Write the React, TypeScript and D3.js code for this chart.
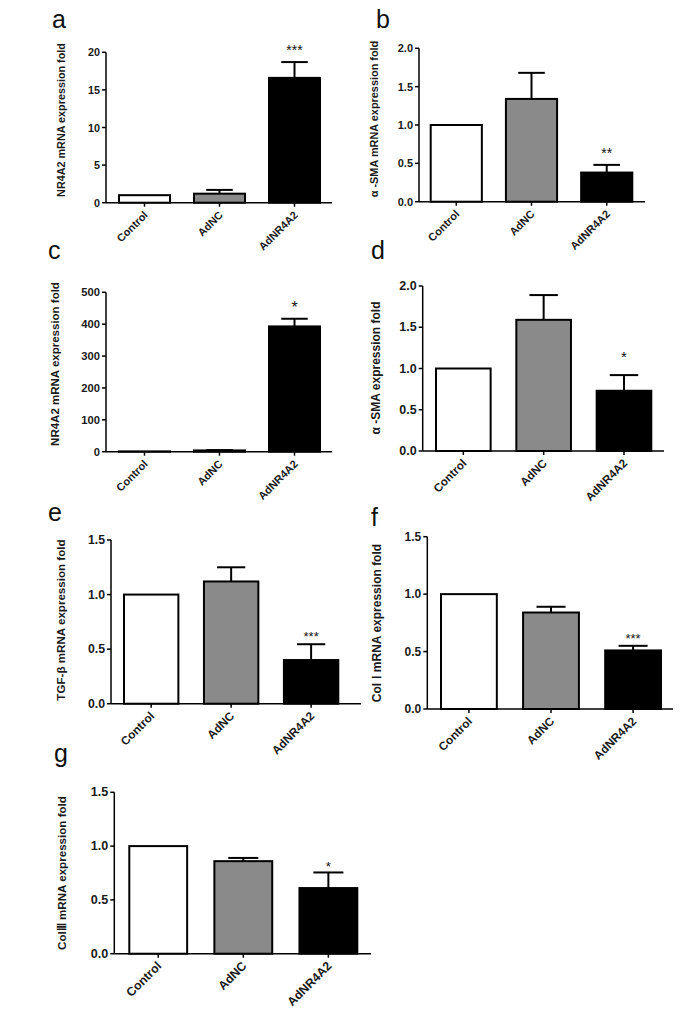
import React from "react";
import * as d3 from "d3";

const categories = ["Control", "AdNC", "AdNR4A2"];

const aMeans = [1, 1.2, 16.6];
const aSem = [0, 0.5, 2.1];
const aTicks = [0, 5, 10, 15, 20];

const bMeans = [1, 1.34, 0.38];
const bSem = [0, 0.34, 0.1];
const bTicks = [0, 0.5, 1.0, 1.5, 2.0];

const cMeans = [1, 4, 393];
const cSem = [0, 1, 24];
const cTicks = [0, 100, 200, 300, 400, 500];

const dMeans = [1, 1.59, 0.73];
const dSem = [0, 0.3, 0.19];
const dTicks = [0, 0.5, 1.0, 1.5, 2.0];

const eMeans = [1, 1.12, 0.4];
const eSem = [0, 0.13, 0.145];
const eTicks = [0, 0.5, 1.0, 1.5];

const fMeans = [1, 0.84, 0.51];
const fSem = [0, 0.05, 0.04];
const fTicks = [0, 0.5, 1.0, 1.5];

const gMeans = [1, 0.86, 0.61];
const gSem = [0, 0.03, 0.145];
const gTicks = [0, 0.5, 1.0, 1.5];

const significance = ["***", "**", "*", "*", "***", "***", "*"];
const panelLetters = ["a", "b", "c", "d", "e", "f", "g"];
const yTitles = [
  "NR4A2 mRNA expression fold",
  "α -SMA mRNA expression fold",
  "NR4A2 mRNA expression fold",
  "α -SMA expression fold",
  "TGF-β  mRNA expression fold",
  "Col Ⅰ  mRNA expression fold",
  "ColⅢ mRNA expression fold",
];

const fills = ["#ffffff", "#8a8a8a", "#000000"];
const FONT = "'Liberation Sans', Arial, Helvetica, sans-serif";

type Layout = {
  axisX: number;
  axisEnd: number;
  yTop: number;
  y0: number;
  bandStart: number;
  bandEnd: number;
  letterX: number;
  letterY: number;
  titleX: number;
  titleY: number;
  titleSize: number;
  tickSize: number;
  labelSize: number;
  starOffset: number;
  starSize: number;
  fmt: string;
};

const layouts: Layout[] = [
  { axisX: 106, axisEnd: 332, yTop: 52.3, y0: 202.7, bandStart: 119, bandEnd: 320, letterX: 52, letterY: 28, titleX: 62, titleY: 120, titleSize: 10.8, tickSize: 10.8, labelSize: 10.8, starOffset: 7, starSize: 14, fmt: "d" },
  { axisX: 419, axisEnd: 645, yTop: 48.3, y0: 201.7, bandStart: 430.7, bandEnd: 632.3, letterX: 376, letterY: 28, titleX: 375, titleY: 119, titleSize: 10.9, tickSize: 11, labelSize: 11, starOffset: 7, starSize: 14, fmt: ".1f" },
  { axisX: 106, axisEnd: 332, yTop: 292.3, y0: 451.7, bandStart: 119, bandEnd: 320, letterX: 48, letterY: 259, titleX: 56, titleY: 364, titleSize: 11.5, tickSize: 11.2, labelSize: 11, starOffset: 6, starSize: 16, fmt: "d" },
  { axisX: 422.7, axisEnd: 664, yTop: 286, y0: 451, bandStart: 436, bandEnd: 651.3, letterX: 371, letterY: 259, titleX: 377, titleY: 368, titleSize: 12, tickSize: 12.5, labelSize: 11.6, starOffset: 13, starSize: 15, fmt: ".1f" },
  { axisX: 111, axisEnd: 361, yTop: 540, y0: 703.7, bandStart: 124, bandEnd: 338.3, letterX: 48, letterY: 521, titleX: 62, titleY: 620, titleSize: 11.6, tickSize: 12.3, labelSize: 11.8, starOffset: 3, starSize: 13, fmt: ".1f" },
  { axisX: 427.3, axisEnd: 673, yTop: 536.7, y0: 709, bandStart: 441, bandEnd: 661, letterX: 371, letterY: 526, titleX: 378, titleY: 623, titleSize: 12, tickSize: 12, labelSize: 11.8, starOffset: 3, starSize: 13, fmt: ".1f" },
  { axisX: 114.3, axisEnd: 371, yTop: 792.3, y0: 953.7, bandStart: 129.3, bandEnd: 357.3, letterX: 54, letterY: 762, titleX: 63, titleY: 873, titleSize: 11.6, tickSize: 12.6, labelSize: 12.3, starOffset: 1, starSize: 13, fmt: ".1f" },
];

const panelData = [
  { means: aMeans, sem: aSem, ticks: aTicks },
  { means: bMeans, sem: bSem, ticks: bTicks },
  { means: cMeans, sem: cSem, ticks: cTicks },
  { means: dMeans, sem: dSem, ticks: dTicks },
  { means: eMeans, sem: eSem, ticks: eTicks },
  { means: fMeans, sem: fSem, ticks: fTicks },
  { means: gMeans, sem: gSem, ticks: gTicks },
];

function Panel({ idx }: { idx: number }) {
  const L = layouts[idx];
  const { means, sem, ticks } = panelData[idx];
  const y = d3
    .scaleLinear()
    .domain([0, ticks[ticks.length - 1]])
    .range([L.y0, L.yTop]);
  const x = d3
    .scaleBand<string>()
    .domain(categories)
    .range([L.bandStart, L.bandEnd])
    .paddingInner(0.32)
    .paddingOuter(0);
  const bw = x.bandwidth();
  const fmt = d3.format(L.fmt);
  const lastIdx = categories.length - 1;
  const sigTop = y(means[lastIdx] + sem[lastIdx]);
  return (
    <g>
      <text x={L.letterX} y={L.letterY} fontFamily={FONT} fontSize={25} fill="#111">
        {panelLetters[idx]}
      </text>
      <text
        transform={`translate(${L.titleX},${L.titleY}) rotate(-90)`}
        textAnchor="middle"
        dominantBaseline="middle"
        fontFamily={FONT}
        fontWeight="bold"
        fontSize={L.titleSize}
        fill="#1a1a1a"
      >
        {yTitles[idx]}
      </text>
      {categories.map((c, i) => {
        const bx = x(c) as number;
        const top = y(means[i]);
        const errTop = y(means[i] + sem[i]);
        const cx = bx + bw / 2;
        return (
          <g key={c}>
            <rect
              x={bx}
              y={top}
              width={bw}
              height={L.y0 - top}
              fill={fills[i]}
              stroke="#000"
              strokeWidth={2}
            />
            {sem[i] > 0 && (
              <g stroke="#000" strokeWidth={2}>
                <line x1={cx} x2={cx} y1={top} y2={errTop} />
                <line x1={cx - bw * 0.26} x2={cx + bw * 0.26} y1={errTop} y2={errTop} />
              </g>
            )}
            <line x1={cx} x2={cx} y1={L.y0} y2={L.y0 + 4} stroke="#000" strokeWidth={1.5} />
            <text
              transform={`translate(${cx + 4},${L.y0 + 13}) rotate(-45)`}
              textAnchor="end"
              fontFamily={FONT}
              fontWeight="bold"
              fontSize={L.labelSize}
              fill="#1a1a1a"
            >
              {c}
            </text>
          </g>
        );
      })}
      <text
        x={x(categories[lastIdx])! + bw / 2}
        y={sigTop - L.starOffset}
        textAnchor="middle"
        fontFamily={FONT}
        fontSize={L.starSize}
        fill="#111"
      >
        {significance[idx]}
      </text>
      <line x1={L.axisX} x2={L.axisX} y1={L.yTop} y2={L.y0} stroke="#000" strokeWidth={1.5} />
      <line x1={L.axisX} x2={L.axisEnd} y1={L.y0} y2={L.y0} stroke="#000" strokeWidth={1.5} />
      {ticks.map((t) => (
        <g key={t}>
          <line x1={L.axisX - 4} x2={L.axisX} y1={y(t)} y2={y(t)} stroke="#000" strokeWidth={1.5} />
          <text
            x={L.axisX - 6}
            y={y(t)}
            textAnchor="end"
            dominantBaseline="central"
            fontFamily={FONT}
            fontWeight="bold"
            fontSize={L.tickSize}
            fill="#1a1a1a"
          >
            {fmt(t)}
          </text>
        </g>
      ))}
    </g>
  );
}

export default function App() {
  return (
    <svg
      width={685}
      height={1014}
      style={{ position: "absolute", left: 0, top: 0, background: "#fff" }}
    >
      <rect width={685} height={1014} fill="#fff" />
      {layouts.map((_, i) => (
        <Panel key={i} idx={i} />
      ))}
    </svg>
  );
}
